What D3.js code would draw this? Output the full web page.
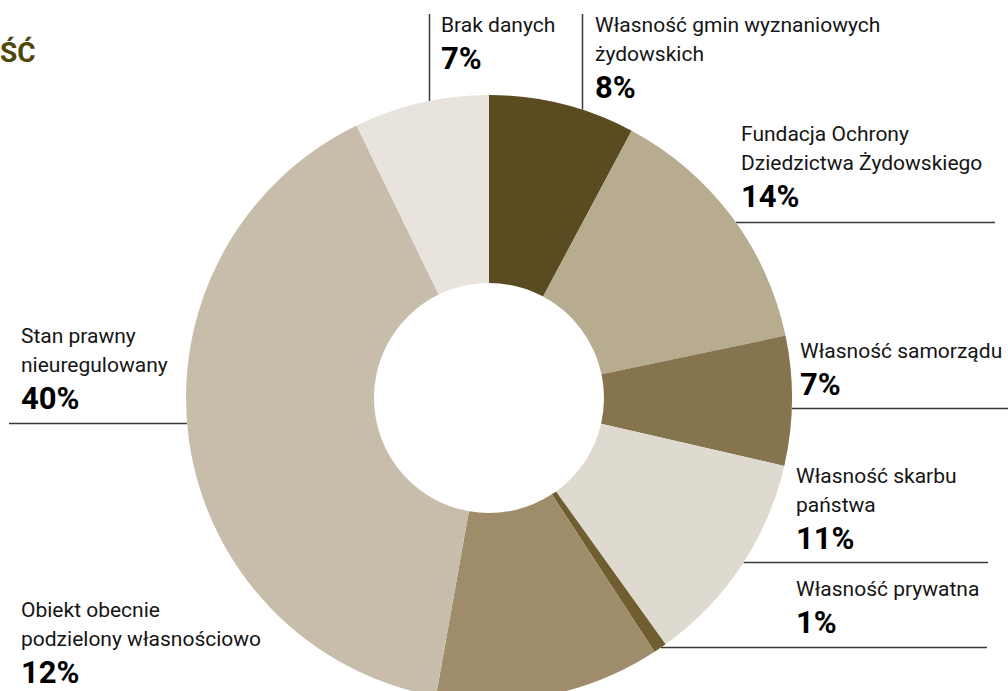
<!DOCTYPE html>
<html>
<head>
<meta charset="utf-8">
<script src="https://cdn.jsdelivr.net/npm/d3@7"></script>
<style>
  body { margin: 0; background: #fff; overflow: hidden; }
  text { font-family: Roboto, "Noto Sans", sans-serif; }
</style>
</head>
<body>
<div class="chart"></div>
<script>
var svgWidth = 1008;
var svgHeight = 691;

// slices, clockwise from 12 o'clock
var categories = [
  "Własność gmin wyznaniowych\nżydowskich",
  "Fundacja Ochrony\nDziedzictwa Żydowskiego",
  "Własność samorządu",
  "Własność skarbu\npaństwa",
  "Własność prywatna",
  "Obiekt obecnie\npodzielony własnościowo",
  "Stan prawny\nnieuregulowany",
  "Brak danych"
];
var shares = [7.8, 13.9, 6.9, 11.5, 0.7, 12.0, 40.0, 7.2];
var pctLabels = ["8%", "14%", "7%", "11%", "1%", "12%", "40%", "7%"];

var colors = ["#5b4b21", "#b7ac90", "#85744e", "#dedad0", "#705d30", "#9e8c6a", "#c8bdab", "#e8e4dd"];

var cx = 489, cy = 398;
var outerR = 303, innerR = 115;

// label placement: x,y = first baseline; leader: v (vertical) or h (horizontal)
var labelPos = [
  { x: 595, y: 32, line: { type: "v", x: 582.5, from: 14 } },
  { x: 741, y: 141, line: { type: "h", y: 222.5, to: 995 } },
  { x: 800, y: 358, line: { type: "h", y: 408.5, to: 1008 } },
  { x: 796, y: 483, line: { type: "h", y: 562.5, to: 988 } },
  { x: 796, y: 596, line: { type: "h", y: 647.5, to: 987 } },
  { x: 21, y: 617, line: null },
  { x: 21, y: 343, line: { type: "h", y: 423.5, to: 9 } },
  { x: 441, y: 32, line: { type: "v", x: 429.5, from: 14 } }
];

var svg = d3.select(".chart")
  .append("svg")
  .attr("width", svgWidth)
  .attr("height", svgHeight);

// clipped title
svg.append("text")
  .attr("x", 0)
  .attr("y", 62)
  .attr("fill", "#4e4806")
  .attr("font-size", 28)
  .attr("font-weight", 700)
  .text("ŚĆ");

var color = d3.scaleOrdinal().domain(categories).range(colors);

var pie = d3.pie().sort(null).value(d => d.value);
var arc = d3.arc().innerRadius(innerR).outerRadius(outerR);

var pieData = pie(categories.map((c, i) => ({ name: c, value: shares[i], pct: pctLabels[i], pos: labelPos[i] })));

// leader lines (drawn first, ending at the pie edge)
var lines = svg.append("g").attr("stroke", "#3a3a3a").attr("stroke-width", 1.5);
pieData.forEach(function(d) {
  var l = d.data.pos.line;
  if (!l) return;
  if (l.type === "v") {
    var dy = Math.sqrt(outerR * outerR - (l.x - cx) * (l.x - cx));
    lines.append("line")
      .attr("x1", l.x).attr("x2", l.x)
      .attr("y1", l.from).attr("y2", cy - dy);
  } else {
    var dx = Math.sqrt(outerR * outerR - (l.y - cy) * (l.y - cy));
    var edge = l.to > cx ? cx + dx : cx - dx;
    lines.append("line")
      .attr("x1", edge).attr("x2", l.to)
      .attr("y1", l.y).attr("y2", l.y);
  }
});

var chartGroup = svg.append("g")
  .attr("transform", `translate(${cx}, ${cy})`);

chartGroup.selectAll("path")
  .data(pieData)
  .enter()
  .append("path")
  .attr("d", arc)
  .attr("fill", d => color(d.data.name));

// labels
var labels = svg.selectAll(".label")
  .data(pieData)
  .enter()
  .append("g")
  .attr("class", "label");

labels.each(function(d) {
  var g = d3.select(this);
  var rows = d.data.name.split("\n");
  rows.forEach(function(r, i) {
    g.append("text")
      .attr("x", d.data.pos.x)
      .attr("y", d.data.pos.y + i * 29)
      .attr("font-size", 21)
      .attr("fill", "#151515")
      .text(r);
  });
  g.append("text")
    .attr("x", d.data.pos.x)
    .attr("y", d.data.pos.y + (rows.length - 1) * 29 + 37)
    .attr("font-size", 31)
    .attr("font-weight", 700)
    .attr("fill", "#000")
    .text(d.data.pct);
});
</script>
</body>
</html>
